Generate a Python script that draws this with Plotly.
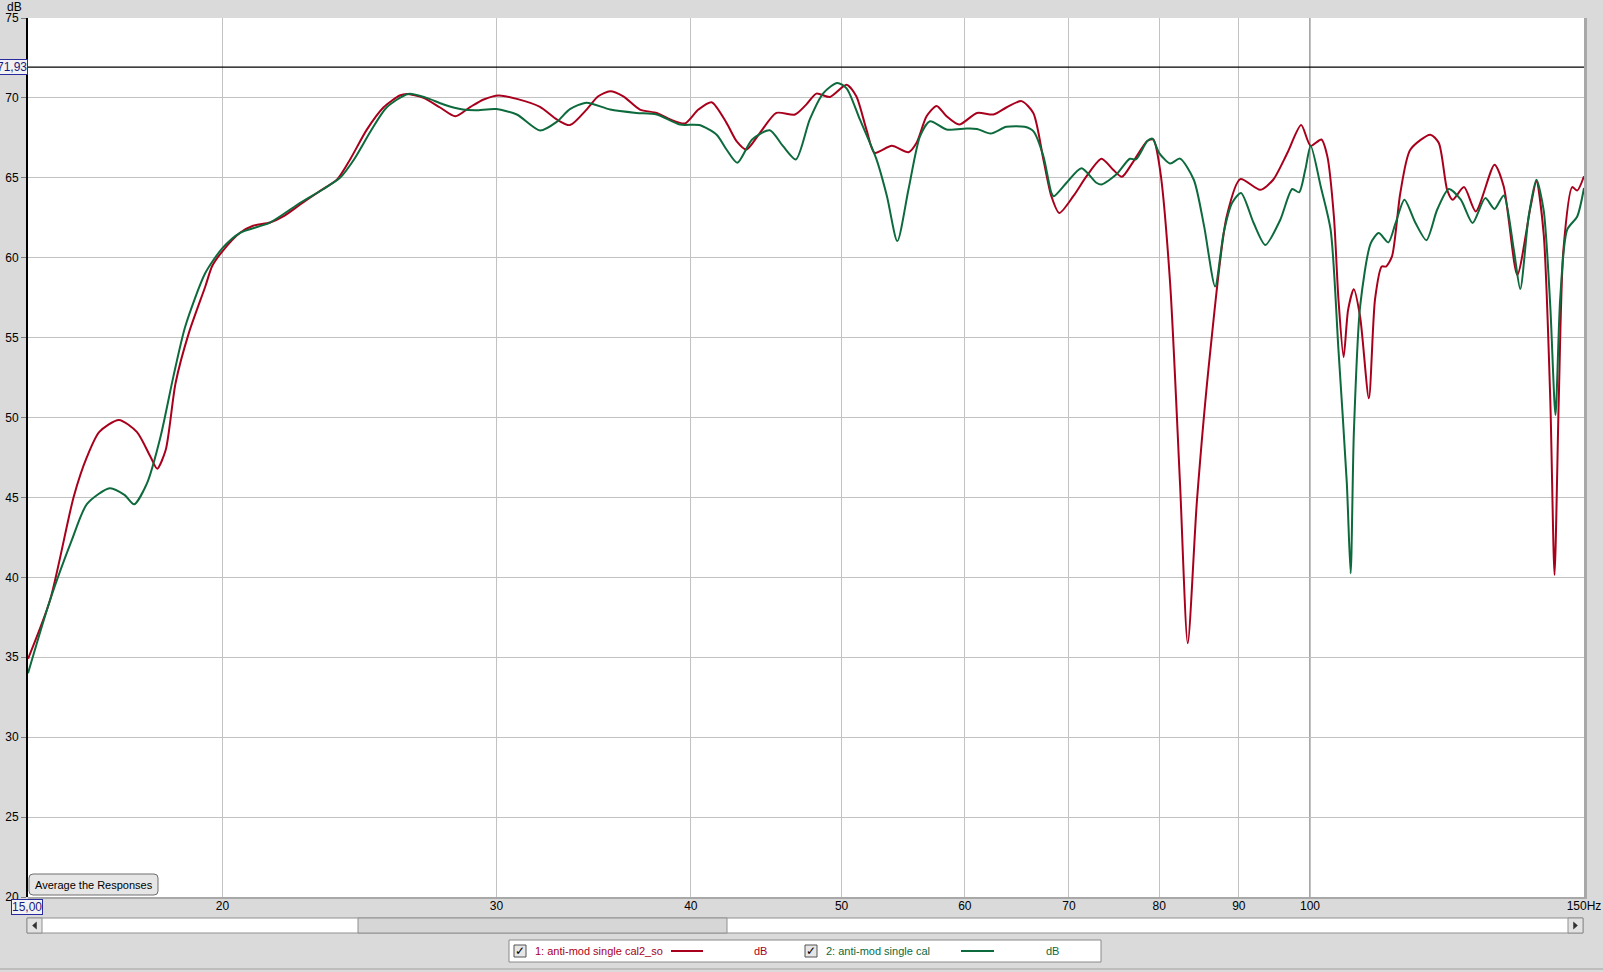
import math
import plotly.graph_objects as go

# ---- data (frequency in Hz, level in dB) ----
freq_red = [15.0, 15.5, 16.05, 16.37, 16.67, 17.16, 17.62, 17.98, 18.16, 18.39, 18.66, 19.03, 19.5,
            19.7, 20.0, 20.53, 20.93, 21.46, 21.9, 22.44, 23.1, 23.7, 24.16, 24.76, 25.38, 26.0,
            26.27, 26.93, 27.6, 28.23, 28.87, 29.44, 30.1, 30.92, 32.0, 32.8, 33.45, 34.28, 34.88,
            35.5, 36.2, 37.1, 38.03, 38.8, 39.65, 40.45, 41.25, 42.17, 42.8, 43.43, 44.3, 45.4,
            46.67, 47.45, 48.17, 49.15, 50.37, 51.1, 51.88, 52.5, 53.85, 55.2, 55.87, 56.7, 57.55,
            58.4, 59.5, 61.1, 62.6, 63.8, 65.25, 66.4, 67.4, 68.2, 69.0, 70.45, 71.85, 73.45, 74.7,
            75.7, 76.9, 78.6, 79.3, 80.1, 81.3, 82.5, 83.45, 84.6, 86.3, 88.4, 90.2, 92.9, 94.7,
            96.7, 98.7, 100.1, 101.7, 102.6, 103.6, 104.3, 105.1, 105.8, 106.7, 107.7, 109.1,
            110.1, 111.2, 111.9, 112.9, 114.3, 116.0, 119.5, 121.0, 122.5, 123.5, 125.6, 127.8,
            131.4, 133.2, 135.9, 138.6, 139.8, 141.3, 142.7, 143.6, 144.5, 145.5, 147.4, 148.5, 150.0]
db_red = [34.9, 38.6, 45.05, 47.55, 49.1, 49.85, 49.1, 47.55, 46.8, 47.97, 52.15, 55.28, 58.2,
          59.48, 60.4, 61.56, 62.0, 62.2, 62.6, 63.33, 64.17, 64.9, 66.15, 68.0, 69.4, 70.15,
          70.25, 70.0, 69.4, 68.85, 69.44, 69.9, 70.15, 69.94, 69.44, 68.65, 68.3, 69.27, 70.1,
          70.42, 70.1, 69.27, 69.06, 68.65, 68.4, 69.27, 69.73, 68.44, 67.3, 66.77, 67.8, 69.06,
          68.96, 69.58, 70.27, 70.06, 70.83, 70.1, 68.0, 66.56, 67.0, 66.6, 67.2, 68.85, 69.5,
          68.85, 68.33, 69.06, 68.96, 69.4, 69.8, 69.06, 66.15, 63.85, 62.8, 63.85, 65.1, 66.19, 65.52,
          65.06, 65.94, 67.3, 67.4, 65.5, 58.43, 45.9, 35.87, 44.84, 54.24, 62.58, 64.92, 64.25, 64.88,
          66.55, 68.3, 67.0, 67.4, 66.34, 62.58, 57.4, 53.78, 56.74, 58.03, 56.3, 51.2,
          57.4, 59.45, 59.45, 60.08, 64.05, 66.76, 67.7, 67.18, 64.25, 63.63, 64.42, 62.9,
          65.82, 64.46, 58.93, 63.2, 64.78, 61.54, 51.1, 40.15, 51.1, 60.5, 64.42, 64.2, 65.1]

freq_green = [15.0, 15.5, 16.0, 16.37, 16.93, 17.3, 17.55, 17.89, 18.25, 18.6, 18.93, 19.5, 20.0,
              20.53, 21.46, 22.44, 23.2, 23.8, 24.3, 24.9, 25.5, 26.33, 27.06, 27.72, 28.55, 29.1,
              30.0, 30.92, 32.0, 32.8, 33.45, 34.28, 35.5, 36.9, 38.03, 39.36, 40.5, 41.56, 42.17,
              42.85, 43.8, 44.96, 45.85, 46.73, 47.7, 48.67, 49.68, 50.37, 51.37, 52.65, 53.47, 54.3,
              55.2, 56.15, 56.99, 58.4, 60.16, 61.1, 62.34, 63.8, 65.56, 66.4, 67.4, 68.2, 68.45,
              69.75, 71.3, 72.9, 73.45, 75.07, 76.6, 77.3, 78.6, 79.2, 80.0, 81.3, 82.5, 84.2, 85.5,
              86.9, 88.0, 89.1, 90.3, 92.0, 93.6, 95.7, 97.4, 98.4, 99.3, 100.1, 101.6, 103.1, 104.3,
              105.6, 106.2, 106.7, 107.7, 109.4, 110.7, 112.3, 113.5, 115.0, 116.9, 118.8, 120.7,
              122.8, 125.0, 127.2, 129.6, 131.4, 133.2, 135.2, 136.5, 138.2, 139.8, 141.3, 142.7,
              143.8, 144.8, 146.3, 148.5, 150.0]
db_green = [34.0, 38.6, 42.3, 44.6, 45.58, 45.16, 44.57, 45.9, 48.8, 52.56, 55.7, 59.04, 60.6,
            61.56, 62.2, 63.44, 64.27, 65.0, 66.15, 67.9, 69.4, 70.25, 70.0, 69.6, 69.27, 69.23,
            69.3, 68.96, 67.96, 68.5, 69.3, 69.7, 69.27, 69.06, 68.96, 68.33, 68.3, 67.7, 66.77,
            65.94, 67.4, 67.98, 66.98, 66.15, 68.65, 70.3, 70.94, 70.6, 68.65, 66.15, 63.85, 61.04,
            64.27, 67.6, 68.54, 68.02, 68.08, 68.06, 67.77, 68.19, 68.19, 67.92, 66.35, 64.06, 63.85,
            64.69, 65.6, 64.69, 64.58, 65.2, 66.19, 66.15, 67.3, 67.45, 66.55, 65.9, 66.2, 64.88, 61.96,
            58.2, 61.54, 63.42, 64.05, 62.17, 60.8, 62.38, 64.3, 64.09, 65.5, 67.0, 64.46, 61.75, 54.24,
            45.9, 40.25, 49.0, 56.95, 60.9, 61.54, 60.96, 62.17, 63.63, 62.17, 61.1, 63.0,
            64.3, 63.63, 62.17, 63.73, 63.05, 63.9, 60.5, 58.04, 62.58, 64.88, 63.0, 56.95,
            50.17, 57.4, 61.75, 62.58, 64.36]

x_ticks = [20, 30, 40, 50, 60, 70, 80, 90, 100, 150]
x_ticktext = ["20", "30", "40", "50", "60", "70", "80", "90", "100", "150Hz"]
cursor_db = 71.93
cursor_hz = 100
name_red = "1: anti-mod single cal2_so"
name_green = "2: anti-mod single cal"

RED = "#a8001c"
GREEN = "#0d6a3c"
W, H = 1603, 972
L, R, T, B = 28, 1584, 18, 897


def px(x):
    return (x - L) / (R - L)


def py(y):
    return (B - y) / (B - T)


def rect(x0, y0, x1, y1, fill, line="#909090", lw=1):
    return dict(type="rect", xref="paper", yref="paper", x0=px(x0), x1=px(x1), y0=py(y1), y1=py(y0),
                fillcolor=fill, line=dict(color=line, width=lw), layer="above")


def seg(x0, y0, x1, y1, color, lw=1):
    return dict(type="line", xref="paper", yref="paper", x0=px(x0), x1=px(x1), y0=py(y0), y1=py(y1),
                line=dict(color=color, width=lw), layer="above")


def rounded(x0, y0, x1, y1, r, fill, line):
    p = (f"M {px(x0 + r)} {py(y0)} L {px(x1 - r)} {py(y0)} Q {px(x1)} {py(y0)} {px(x1)} {py(y0 + r)} "
         f"L {px(x1)} {py(y1 - r)} Q {px(x1)} {py(y1)} {px(x1 - r)} {py(y1)} "
         f"L {px(x0 + r)} {py(y1)} Q {px(x0)} {py(y1)} {px(x0)} {py(y1 - r)} "
         f"L {px(x0)} {py(y0 + r)} Q {px(x0)} {py(y0)} {px(x0 + r)} {py(y0)} Z")
    return dict(type="path", xref="paper", yref="paper", path=p, fillcolor=fill,
                line=dict(color=line, width=1), layer="above")


def tri(pts, color):
    p = "M " + " L ".join(f"{px(a)} {py(b)}" for a, b in pts) + " Z"
    return dict(type="path", xref="paper", yref="paper", path=p, fillcolor=color,
                line=dict(color=color, width=0.5), layer="above")


fig = go.Figure()
fig.add_trace(go.Scatter(x=freq_red, y=db_red, mode="lines", name=name_red,
                         line=dict(color=RED, width=2, shape="spline", smoothing=0.7)))
fig.add_trace(go.Scatter(x=freq_green, y=db_green, mode="lines", name=name_green,
                         line=dict(color=GREEN, width=2, shape="spline", smoothing=0.7)))

font = "Liberation Sans, Arial, sans-serif"
fig.update_layout(
    width=W, height=H, margin=dict(l=L, r=W - R, t=T, b=H - B, autoexpand=False),
    paper_bgcolor="#dadada", plot_bgcolor="white", showlegend=False,
    font=dict(family=font, size=12, color="black"),
)
fig.update_xaxes(type="log", range=[math.log10(15), math.log10(150)], tickvals=x_ticks,
                 ticktext=x_ticktext, showgrid=True, gridcolor="#c2c2c2", gridwidth=1,
                 ticks="", zeroline=False, showline=False, tickfont=dict(size=12), automargin=False)
fig.update_yaxes(range=[20, 75], tick0=20, dtick=5, showgrid=True, gridcolor="#c2c2c2",
                 ticks="outside", ticklen=5, tickcolor="#808080", showline=True,
                 linecolor="black", linewidth=2, zeroline=False, tickfont=dict(size=12), automargin=False)

shapes = []
# plot frame and shadow
shapes.append(seg(L, T, R, T, "#9a9a9a", 1))
shapes.append(seg(R + 1.5, T, R + 1.5, B + 1.5, "#a8a8a8", 3))
shapes.append(seg(L, B + 1, R + 3, B + 1, "#a8a8a8", 2))
# cursors
fig.add_hline(y=cursor_db, line=dict(color="black", width=1.2))
cx = (math.log10(cursor_hz) - math.log10(15)) / (math.log10(150) - math.log10(15))
shapes.append(dict(type="line", xref="paper", yref="paper", x0=cx, x1=cx, y0=0, y1=1,
                   line=dict(color="#8a8a8a", width=1.5), layer="below"))

# scrollbar
shapes.append(rect(27, 918, 1583, 933, "white"))
shapes.append(rect(358, 918, 727, 933, "#d6d6d6"))
shapes.append(rect(27, 918, 42, 933, "#e2e2e2"))
shapes.append(rect(1568, 918, 1583, 933, "#e2e2e2"))
shapes.append(tri([(36.5, 922), (36.5, 929), (32.5, 925.5)], "#303030"))
shapes.append(tri([(1573.5, 922), (1573.5, 929), (1577.5, 925.5)], "#303030"))

# legend panel
shapes.append(rect(509, 940, 1101, 962, "white", "#8a8a8a"))
shapes.append(rect(514, 945, 526, 957, "#e6e6e6", "#555555"))
shapes.append(rect(805, 945, 817, 957, "#e6e6e6", "#555555"))
shapes.append(seg(671, 951, 703, 951, RED, 2))
shapes.append(seg(961, 951, 994, 951, GREEN, 2))
shapes.append(seg(0, 969, W, 969, "#a0a0a0", 1))

# button
shapes.append(rounded(29, 874, 158, 895, 4, "#e6e6e6", "#6e6e6e"))

fig.update_layout(shapes=shapes)

ann = []


def text(x, y, s, color="black", anchor="center", size=11, **kw):
    ann.append(dict(x=px(x), y=py(y), xref="paper", yref="paper", text=s, showarrow=False,
                    xanchor=anchor, yanchor="middle", font=dict(family=font, size=size, color=color), **kw))


text(14, 7, "dB", size=12)
ann.append(dict(x=px(12), y=cursor_db, xref="paper", yref="y", text="71,93", showarrow=False,
                xanchor="center", yanchor="middle", font=dict(family=font, size=12, color="#1a1a80"),
                bordercolor="#2a2aa0", borderwidth=1, borderpad=0, bgcolor="#f2f2f2"))
text(27, 907, "15,00", color="#1a1a80", size=12, bordercolor="#2a2aa0", borderwidth=1, borderpad=0,
     bgcolor="#f2f2f2")
text(93.5, 885, "Average the Responses", size=11)
text(520, 950.5, "✓", size=12)
text(811, 950.5, "✓", size=12)
text(533, 951, name_red, color=RED, anchor="left", size=11)
text(760, 951, "dB", color=RED, size=11)
text(824, 951, name_green, color=GREEN, anchor="left", size=11)
text(1052, 951, "dB", color=GREEN, size=11)
fig.update_layout(annotations=ann)

# the page is a fixed 1603x972 screen, so drop the browser's default body margin
fig.write_html("out.html", config={"displayModeBar": False},
               post_script="document.body.style.margin='0';")
